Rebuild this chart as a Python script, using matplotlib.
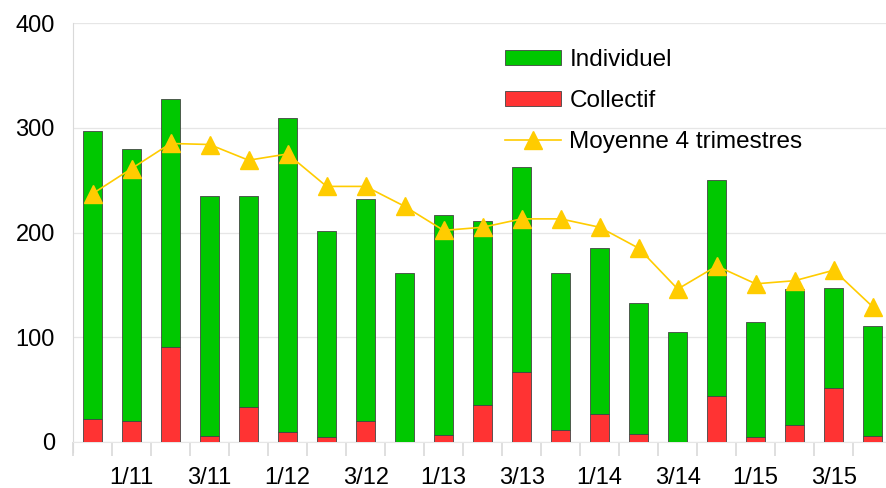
import numpy as np
import matplotlib
matplotlib.use("Agg")
import matplotlib.pyplot as plt

# Quarterly data, 4/10 .. 4/15
quarters = ["4/10", "1/11", "2/11", "3/11", "4/11", "1/12", "2/12", "3/12", "4/12",
            "1/13", "2/13", "3/13", "4/13", "1/14", "2/14", "3/14", "4/14",
            "1/15", "2/15", "3/15", "4/15"]
total = [297, 280, 327, 235, 235, 309, 201, 232, 161, 217, 211, 263, 161, 185,
         133, 105, 250, 115, 146, 147, 111]
collectif = [22, 20, 91, 6, 33, 10, 5, 20, 0, 7, 35, 67, 11, 27, 8, 0, 44, 5, 16, 52, 6]
moyenne = [237, 261, 285, 284, 269, 275, 244, 244, 225, 202, 205, 213, 213, 205,
           185, 146, 168, 151, 154, 164, 129]
individuel = [t - c for t, c in zip(total, collectif)]

GREEN = "#00c800"
RED = "#ff3333"
YELLOW = "#ffcc00"

plt.rcParams["font.family"] = ["Liberation Sans", "DejaVu Sans"]

fig = plt.figure(figsize=(8.86, 4.88), dpi=100)
# axes runs slightly past the right edge, as in the original
ax = fig.add_axes([73 / 886, (488 - 442) / 488, (892.3 - 73) / 886, (442 - 23) / 488])

x = np.arange(len(quarters))
b_col = ax.bar(x, collectif, width=0.49, color=RED, edgecolor="#444444", linewidth=0.6,
               zorder=3)
b_ind = ax.bar(x, individuel, width=0.49, bottom=collectif, color=GREEN,
               edgecolor="#444444", linewidth=0.6, zorder=3)
ln, = ax.plot(x, moyenne, color=YELLOW, linewidth=1.2, marker="^", markersize=13,
              markerfacecolor=YELLOW, markeredgecolor=YELLOW, zorder=4)

ax.set_xlim(-0.5, len(quarters) - 0.5)
ax.set_ylim(0, 400)
ax.set_yticks([0, 100, 200, 300, 400])
ax.tick_params(axis="y", length=0, labelsize=17, pad=13)
ax.grid(axis="y", color="#e6e6e6", linewidth=0.9, zorder=0)

# category boundaries as ticks, labels every second quarter
ax.set_xticks(np.arange(len(quarters) + 1) - 0.5)
ax.set_xticklabels([])
ax.tick_params(axis="x", which="major", length=10, color="#d9d9d9", width=1.2)
ax.set_xticks(x[1::2], minor=True)
ax.set_xticklabels(quarters[1::2], minor=True)
ax.tick_params(axis="x", which="minor", length=0, labelsize=17, pad=18)

for side in ["top", "right"]:
    ax.spines[side].set_visible(False)
ax.spines["bottom"].set_color("#e6e6e6")
ax.spines["left"].set_color("#d9d9d9")
ax.spines["left"].set_bounds(-10, 400)
ax.spines["left"].set_clip_on(False)

ax.legend([b_ind, b_col, ln], ["Individuel", "Collectif", "Moyenne 4 trimestres"],
          loc="upper left", bbox_to_anchor=(505 / 886, 1 - 49 / 488),
          bbox_transform=fig.transFigure, frameon=False, borderpad=0,
          borderaxespad=0, fontsize=17.5, handlelength=2.3, handleheight=0.6,
          labelspacing=0.78, handletextpad=0.35)

fig.savefig("out.png", dpi=100)
